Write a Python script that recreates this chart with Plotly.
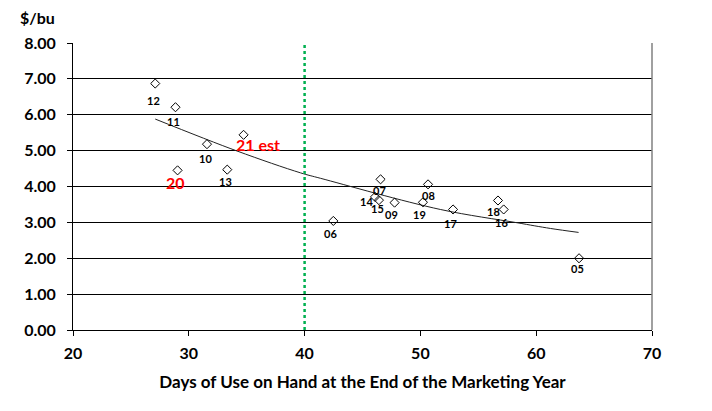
import plotly.graph_objects as go

# marketing years (labels) with days of use on hand and price
years = ["12", "11", "10", "21 est", "20", "13", "07", "08", "14",
         "15", "09", "19", "17", "18", "16", "06", "05"]
days = [27.1, 28.85, 31.57, 34.73, 29.03, 33.32, 46.56, 50.66, 46.08,
        46.42, 47.77, 50.22, 52.82, 56.70, 57.19, 42.48, 63.70]
price = [6.87, 6.21, 5.18, 5.44, 4.45, 4.47, 4.20, 4.06, 3.71,
         3.62, 3.55, 3.56, 3.36, 3.61, 3.36, 3.04, 2.00]

# trend line
trend_days = [27.1, 34.16, 39.65, 41.36, 51.72, 58.34, 61.24, 63.66]
trend_price = [5.88, 4.99, 4.38, 4.23, 3.36, 2.99, 2.83, 2.72]

x_ticks = [20, 30, 40, 50, 60, 70]
y_ticks = [0, 1, 2, 3, 4, 5, 6, 7, 8]

FONT = "Lato, Noto Sans, sans-serif"
red_years = {"21 est", "20"}
# label offsets in pixels (dx, dy) relative to each point
offsets = {"12": (-2, -17), "11": (-2, -14), "10": (-1, -14), "21 est": (14, -10),
           "20": (-2, -12), "13": (-2, -12), "07": (-1, -11), "08": (0, -11),
           "14": (-9, -5), "15": (-1, -8), "09": (-3, -12), "19": (-3, -12),
           "17": (-3, -14), "18": (-4, -11), "16": (-2, -13), "06": (-3, -13),
           "05": (-2, -10)}

fig = go.Figure()

fig.add_trace(go.Scatter(
    x=trend_days, y=trend_price, mode="lines", line_shape="spline",
    line=dict(color="#222222", width=1), hoverinfo="skip"))

fig.add_trace(go.Scatter(
    x=days, y=price, mode="markers",
    marker=dict(symbol="diamond-open", size=7, color="black",
                line=dict(width=1, color="black"))))

for yr, dx, py in zip(years, days, price):
    ox, oy = offsets[yr]
    red = yr in red_years
    fig.add_annotation(
        x=dx, y=py, text="<b>%s</b>" % yr, showarrow=False,
        xshift=ox, yshift=oy,
        font=dict(family=FONT, size=16 if red else 11,
                  color="#FF0000" if red else "black"))

fig.add_shape(type="line", x0=40, x1=40, y0=0, y1=8, xref="x", yref="y",
              line=dict(color="#00B050", width=2.5, dash="dot"))

fig.add_annotation(x=-0.095, y=1.09, xref="paper", yref="paper",
                   xanchor="left", yanchor="middle",
                   text="<b>$/bu</b>", showarrow=False,
                   font=dict(family=FONT, size=16, color="black"))

fig.update_layout(
    width=712, height=411,
    margin=dict(l=65, r=68, t=35, b=89),
    paper_bgcolor="white", plot_bgcolor="white",
    showlegend=False,
    font=dict(family=FONT, color="black"),
    xaxis=dict(range=[20, 70], tickvals=x_ticks,
               ticktext=["<b>%d</b>" % v for v in x_ticks],
               tickfont=dict(size=16), showgrid=False, zeroline=False,
               showline=True, linecolor="black", linewidth=1,
               ticks="outside", ticklen=5, tickcolor="black",
               ticklabelstandoff=4,
               title=dict(text="<b>Days of Use on Hand at the End of the Marketing Year</b>",
                          font=dict(size=17), standoff=14)),
    yaxis=dict(range=[0, 8], tickvals=y_ticks,
               ticktext=["<b>%.2f</b>" % v for v in y_ticks],
               tickfont=dict(size=16), showgrid=True, gridcolor="black",
               gridwidth=1, zeroline=False,
               showline=True, linecolor="black", linewidth=1,
               ticks="outside", ticklen=5, tickcolor="black",
               ticklabelstandoff=8),
)

# right border of the plot area
fig.add_shape(type="line", x0=1, x1=1, y0=0, y1=1, xref="paper", yref="paper",
              line=dict(color="#808080", width=1.5))

fig.write_html("out.html")
